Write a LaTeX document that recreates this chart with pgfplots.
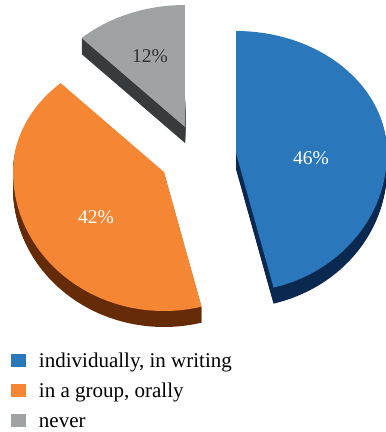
\documentclass[border=0pt]{standalone}
\usepackage{pgfplots}
\pgfplotsset{compat=1.18}
\usepackage{fontspec}
\setmainfont{Liberation Serif}
\definecolor{cBlue}{HTML}{2A77BB}
\definecolor{cBlueD}{HTML}{0B2850}
\definecolor{cOrange}{HTML}{F58634}
\definecolor{cOrangeD}{HTML}{652B07}
\definecolor{cGray}{HTML}{A0A3A4}
\definecolor{cGrayD}{HTML}{373B3E}
\begin{document}
\begin{tikzpicture}
% shares (percent)
\pgfmathsetmacro{\vA}{46}
\pgfmathsetmacro{\vB}{42}
\pgfmathsetmacro{\vC}{12}
\pgfmathsetmacro{\aA}{3.6*\vA}
\pgfmathsetmacro{\aB}{3.6*(\vA+\vB)}
\pgfmathsetmacro{\aC}{3.6*(\vA+\vB+\vC)}
\def\rx{151}\def\ryt{122}\def\ryb{139}
\begin{axis}[
  scale only axis, width=386pt, height=432pt,
  xmin=0, xmax=386, ymin=0, ymax=432, y dir=reverse,
  hide axis, samples=90,
  legend image code/.code={\fill[#1, draw=none] (0pt,-6.5pt) rectangle (15pt,6.5pt);},
  legend cell align=left,
  legend style={at={(axis cs:11,352)}, anchor=north west, draw=none, fill=none,
    inner sep=0pt, outer sep=0pt, row sep=13pt, column sep=13pt,
    font=\fontsize{21}{24}\selectfont,
    nodes={inner sep=0pt, text height=15pt, text depth=2pt, anchor=west}},
]
% side faces (extruded downward)
\pgfplotsinvokeforeach{1,...,16}{
  \addplot[forget plot, fill=cBlueD, draw=none, domain=0:\aA]
    ({236+\rx*sin(x)}, {153+#1-(cos(x)>0 ? \ryt : \ryb)*cos(x)}) -- (236,{153+#1}) -- cycle;
  \addplot[forget plot, fill=cOrangeD, draw=none, domain=\aA:\aB]
    ({164+\rx*sin(x)}, {172+#1-(cos(x)>0 ? \ryt : \ryb)*cos(x)}) -- (164,{172+#1}) -- cycle;
  \addplot[forget plot, fill=cGrayD, draw=none, domain=\aB:\aC]
    ({185+\rx*sin(x)}, {127+#1-(cos(x)>0 ? \ryt : \ryb)*cos(x)}) -- (185,{127+#1}) -- cycle;
}
% top faces
\addplot[forget plot, fill=cBlue, draw=none, domain=0:\aA]
  ({236+\rx*sin(x)}, {153-(cos(x)>0 ? \ryt : \ryb)*cos(x)}) -- (236,153) -- cycle;
\addplot[forget plot, fill=cOrange, draw=none, domain=\aA:\aB]
  ({164+\rx*sin(x)}, {172-(cos(x)>0 ? \ryt : \ryb)*cos(x)}) -- (164,172) -- cycle;
\addplot[forget plot, fill=cGray, draw=none, domain=\aB:\aC]
  ({185+\rx*sin(x)}, {127-(cos(x)>0 ? \ryt : \ryb)*cos(x)}) -- (185,127) -- cycle;
% labels
\node[text=white, font=\fontsize{19.5}{22}\selectfont] at (311,158) {46\%};
\node[text=white, font=\fontsize{19.5}{22}\selectfont] at (96,217) {42\%};
\node[text=black!80, font=\fontsize{19.5}{22}\selectfont] at (150,56) {12\%};
% legend
\addlegendimage{fill=cBlue}
\addlegendentry{individually, in writing}
\addlegendimage{fill=cOrange}
\addlegendentry{in a group, orally}
\addlegendimage{fill=cGray}
\addlegendentry{never}
\end{axis}
\pgfresetboundingbox
\path (current axis.south west) rectangle (current axis.north east);
\end{tikzpicture}
\end{document}
